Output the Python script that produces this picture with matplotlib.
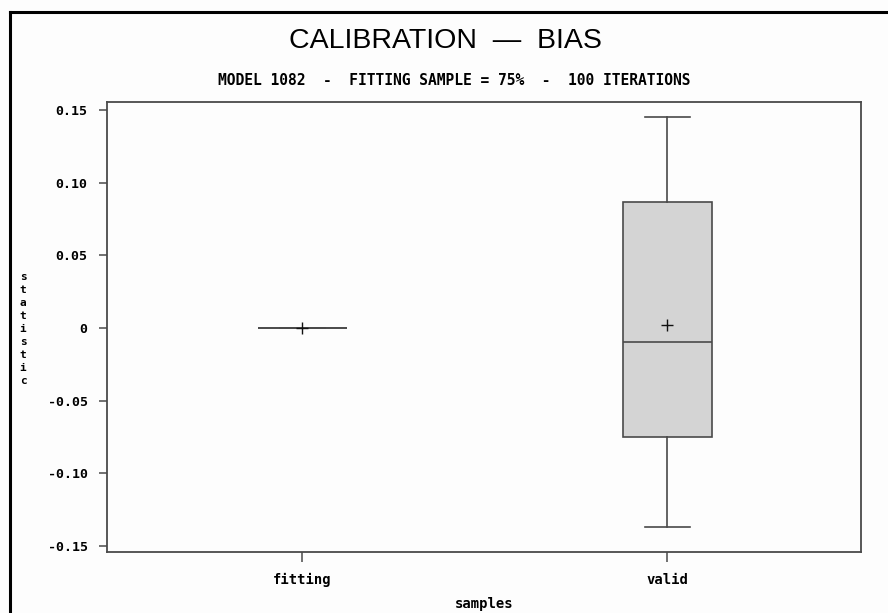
import matplotlib
matplotlib.use("Agg")
import matplotlib.pyplot as plt
from matplotlib.lines import Line2D

# values
samples = ["fitting", "valid"]
medians = [0.0, -0.010]
q1 = [0.0, -0.075]
q3 = [0.0, 0.087]
whisk_lo = [0.0, -0.137]
whisk_hi = [0.0, 0.145]
means = [0.0, 0.002]
yticks = [-0.15, -0.10, -0.05, 0, 0.05, 0.10, 0.15]
ytick_labels = ["-0.15", "-0.10", "-0.05", "0", "0.05", "0.10", "0.15"]

mono = ["DejaVu Sans Mono"]
edge = "#4a4a4a"

fig = plt.figure(figsize=(8.88, 6.13), dpi=100)
fig.patch.set_facecolor("#fdfdfd")
ax = fig.add_axes([0.1205, 0.100, 0.849, 0.7336])
ax.set_facecolor("#fdfdfd")

stats = []
for i, name in enumerate(samples):
    stats.append({
        "label": name, "med": medians[i], "q1": q1[i], "q3": q3[i],
        "whislo": whisk_lo[i], "whishi": whisk_hi[i], "mean": means[i],
        "fliers": [],
    })

ax.bxp(stats, positions=[1, 2], widths=0.245, patch_artist=True, showmeans=True,
       showfliers=False,
       boxprops=dict(facecolor="#d4d4d4", edgecolor=edge, linewidth=1.2),
       medianprops=dict(color=edge, linewidth=1.2),
       whiskerprops=dict(color=edge, linewidth=1.2),
       capprops=dict(color=edge, linewidth=1.2),
       capwidths=0.123,
       meanprops=dict(marker="+", markeredgecolor="#111111", markersize=9,
                      markeredgewidth=1.0))

ax.set_xlim(0.465, 2.53)
ax.set_ylim(-0.154, 0.1555)
ax.set_yticks(yticks)
ax.set_yticklabels(ytick_labels)
ax.set_xticks([1, 2])
ax.set_xticklabels(samples)
for lab in ax.get_yticklabels() + ax.get_xticklabels():
    lab.set_family(mono)
    lab.set_fontweight("bold")
    lab.set_fontsize(9.5)
for lab in ax.get_xticklabels():
    lab.set_fontsize(10)
ax.tick_params(axis="y", direction="out", length=6, width=1.1, color=edge, pad=8)
ax.tick_params(axis="x", direction="out", length=7, width=1.1, color=edge, pad=8)
for sp in ax.spines.values():
    sp.set_color(edge)
    sp.set_linewidth(1.3)

fig.text(0.1205 + 0.849 / 2, 0.003, "samples", ha="center", va="bottom",
         family=mono, fontweight="bold", fontsize=10)
fig.text(0.026, 0.463, "\n".join("statistic"), ha="center", va="center",
         family=mono, fontweight="bold", fontsize=8, linespacing=1.37)

fig.text(0.502, 0.933, "CALIBRATION  \u2014  BIAS", ha="center", va="center",
         family=["Liberation Sans Narrow", "Liberation Sans", "DejaVu Sans"],
         fontsize=20.5)
fig.text(0.512, 0.868, "MODEL 1082  -  FITTING SAMPLE = 75%  -  100 ITERATIONS",
         ha="center", va="center", family=mono, fontweight="bold", fontsize=10.5)

# outer frame (top and left edges)
fig.add_artist(Line2D([0.011, 1.0], [0.980, 0.980], transform=fig.transFigure,
                      color="black", linewidth=2.2))
fig.add_artist(Line2D([0.011, 0.011], [0.0, 0.980], transform=fig.transFigure,
                      color="black", linewidth=2.2))

fig.savefig("out.png", dpi=100, facecolor=fig.get_facecolor())
